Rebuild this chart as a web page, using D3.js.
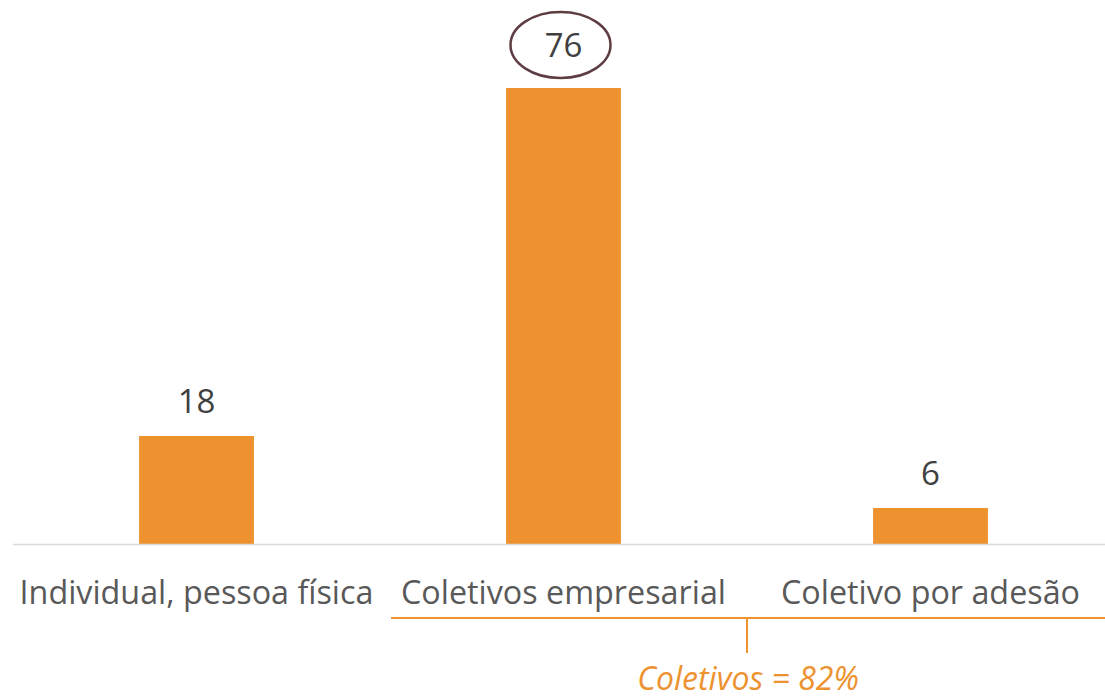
<!DOCTYPE html>
<html>
<head>
<meta charset="utf-8">
<script src="https://cdn.jsdelivr.net/npm/d3@7"></script>
<style>
  html, body { margin: 0; padding: 0; background: #fff; }
  svg { display: block; }
</style>
</head>
<body>
<div class="chart"></div>
<script>
var categories = ["Individual, pessoa física", "Coletivos empresarial", "Coletivo por adesão"];
var values = [18, 76, 6];
var highlighted = ["Coletivos empresarial"];
var groupCategories = ["Coletivos empresarial", "Coletivo por adesão"];
var groupLabel = "Coletivos = 82%";

var width = 1105, height = 700;
var baseline = 544;

var svg = d3.select(".chart").append("svg")
  .attr("width", width)
  .attr("height", height)

var x = d3.scaleBand()
  .domain(categories)
  .range([13, 1114])
  .paddingInner(0.687)
  .paddingOuter(0.3435)

var y = d3.scaleLinear()
  .domain([0, 76])
  .range([baseline, 88])

var data = categories.map(function(c, i) { return {cat: c, value: values[i]}; });

// bars
svg.append("g")
  .selectAll("rect")
  .data(data)
  .enter()
  .append("rect")
  .attr("x", function(d) { return x(d.cat); })
  .attr("y", function(d) { return y(d.value); })
  .attr("width", x.bandwidth())
  .attr("height", function(d) { return baseline - y(d.value); })
  .attr("fill", "#ED922F")

// baseline axis
svg.append("line")
  .attr("x1", 13).attr("x2", width)
  .attr("y1", baseline + 0.5).attr("y2", baseline + 0.5)
  .attr("stroke", "#d9d9d9")
  .attr("stroke-width", 1.6)

// value labels
svg.append("g")
  .selectAll("text")
  .data(data)
  .enter()
  .append("text")
  .attr("x", function(d) { return x(d.cat) + x.bandwidth() / 2; })
  .attr("y", function(d) {
    return y(d.value) - (highlighted.indexOf(d.cat) >= 0 ? 31 : 23);
  })
  .attr("text-anchor", "middle")
  .style("font-family", "'Open Sans', sans-serif")
  .style("font-size", "33px")
  .style("fill", "#404040")
  .text(function(d) { return d.value; })

// ellipse round the highlighted value
svg.append("g")
  .selectAll("ellipse")
  .data(data.filter(function(d) { return highlighted.indexOf(d.cat) >= 0; }))
  .enter()
  .append("ellipse")
  .attr("cx", function(d) { return x(d.cat) + x.bandwidth() / 2 - 3; })
  .attr("cy", function(d) { return y(d.value) - 43; })
  .attr("rx", 50)
  .attr("ry", 33)
  .attr("fill", "none")
  .attr("stroke", "#5e3d43")
  .attr("stroke-width", 2.5)

// category labels
svg.append("g")
  .selectAll("text")
  .data(categories)
  .enter()
  .append("text")
  .attr("x", function(d) { return x(d) + x.bandwidth() / 2; })
  .attr("y", 604)
  .attr("text-anchor", "middle")
  .style("font-family", "'Open Sans', sans-serif")
  .style("font-size", "32.3px")
  .style("fill", "#595959")
  .text(function(d) { return d; })

// bracket for the grouped categories
var step = x.step();
var gStart = x(groupCategories[0]) - step * x.paddingInner() / 2;
var gEnd = x(groupCategories[groupCategories.length - 1]) + x.bandwidth() + step * x.paddingInner() / 2;
var gMid = (gStart + gEnd) / 2;

svg.append("line")
  .attr("x1", gStart + 11).attr("x2", width)
  .attr("y1", 618).attr("y2", 618)
  .attr("stroke", "#ED922F")
  .attr("stroke-width", 2)

svg.append("line")
  .attr("x1", gMid).attr("x2", gMid)
  .attr("y1", 618).attr("y2", 653)
  .attr("stroke", "#ED922F")
  .attr("stroke-width", 2)

svg.append("text")
  .attr("x", gMid + 1)
  .attr("y", 690)
  .attr("text-anchor", "middle")
  .style("font-family", "'Open Sans', sans-serif")
  .style("font-size", "32px")
  .style("font-style", "italic")
  .style("fill", "#ED922F")
  .text(groupLabel)
</script>
</body>
</html>
